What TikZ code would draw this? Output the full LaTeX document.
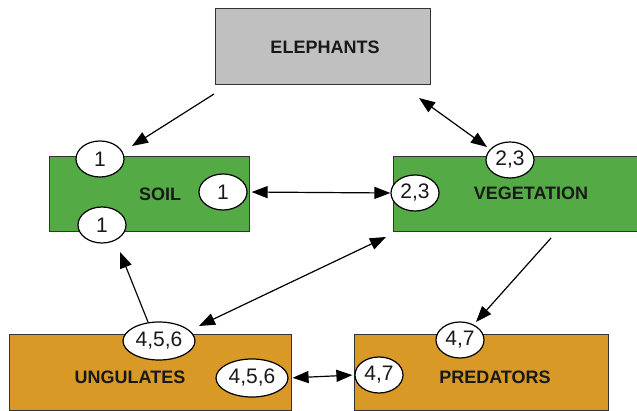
\documentclass[tikz,border=0pt]{standalone}
\usepackage{fontspec}
\setmainfont{Liberation Sans}
\usetikzlibrary{arrows.meta}
\usetikzlibrary{calc,shapes}
\definecolor{elegray}{RGB}{192,192,192}
\definecolor{soilgreen}{RGB}{84,170,68}
\definecolor{herbor}{RGB}{217,153,39}
\tikzset{
  box/.style={draw=black!80,line width=1pt,inner sep=0pt},
  lbl/.style={font=\fontsize{18}{20}\selectfont\bfseries,text=black!90},
  tag/.style={ellipse,draw=black,line width=1.2pt,fill=white,inner sep=0pt,minimum width=48pt,minimum height=36pt,font=\fontsize{21}{23}\selectfont,text=black!90},
  widetag/.style={tag,minimum width=72pt,minimum height=38pt},
  arr/.style={-{Triangle[length=16pt,width=12pt]},line width=1.2pt},
  darr/.style={{Triangle[length=16pt,width=12pt]}-{Triangle[length=16pt,width=12pt]},line width=1.2pt}
}
\begin{document}
\begin{tikzpicture}[x=1pt,y=-1pt]
  \useasboundingbox (0,0) rectangle (637,411);
  % boxes
  \node[box,fill=elegray,minimum width=215pt,minimum height=76pt] (eleph) at (322.5,47) {};
  \node[box,fill=soilgreen,minimum width=200pt,minimum height=75pt] (soil) at (149,194.5) {};
  \node[box,fill=soilgreen,minimum width=247pt,minimum height=75pt] (veg) at (516.5,194.5) {};
  \node[box,fill=herbor,minimum width=282pt,minimum height=75pt] (ung) at (150,372.5) {};
  \node[box,fill=herbor,minimum width=254pt,minimum height=75pt] (pred) at (481,372.5) {};
  \node[lbl] (elephtxt) at (325,47) {ELEPHANTS};
  \node[lbl] (soiltxt) at (160,194) {SOIL};
  \node[lbl] (vegtxt) at (531,193) {VEGETATION};
  \node[lbl] (ungtxt) at (130,377) {UNGULATES};
  \node[lbl] (predtxt) at (495,377) {PREDATORS};
  % numbered tags
  \node[tag] (s1top) at (100,159) {1};
  \node[tag] (s1right) at (223,192) {1};
  \node[tag] (s1bot) at (102,225) {1};
  \node[tag] (v23top) at (510,160) {2,3};
  \node[tag] (v23left) at (415,193) {2,3};
  \node[widetag] (u456top) at (159,341) {4,5,6};
  \node[widetag] (u456right) at (252,378) {4,5,6};
  \node[tag] (p47top) at (460,340) {4,7};
  \node[tag] (p47left) at (379,375) {4,7};
  % arrow ends
  \coordinate (eleph1) at (214,94);
  \coordinate (soil1) at (132,146);
  \coordinate (eleph2) at (419,98);
  \coordinate (veg2) at (487,147);
  \coordinate (veg4) at (386,237);
  \coordinate (ung4) at (199,326);
  \coordinate (ung5) at (148,322);
  \coordinate (soil5) at (120,252);
  \coordinate (veg6) at (551,238);
  \coordinate (pred6) at (476,322);
  % connectors
  \draw[arr] (eleph1) -- (soil1);
  \draw[darr] (eleph2) -- (veg2);
  \draw[darr,shorten <=4pt] (s1right.east) -- (v23left.west);
  \draw[darr] (veg4) -- (ung4);
  \draw[arr] (ung5) -- (soil5);
  \draw[arr] (veg6) -- (pred6);
  \draw[darr,shorten <=4pt,shorten >=2pt] (u456right.east) -- (p47left.west);
\end{tikzpicture}
\end{document}
